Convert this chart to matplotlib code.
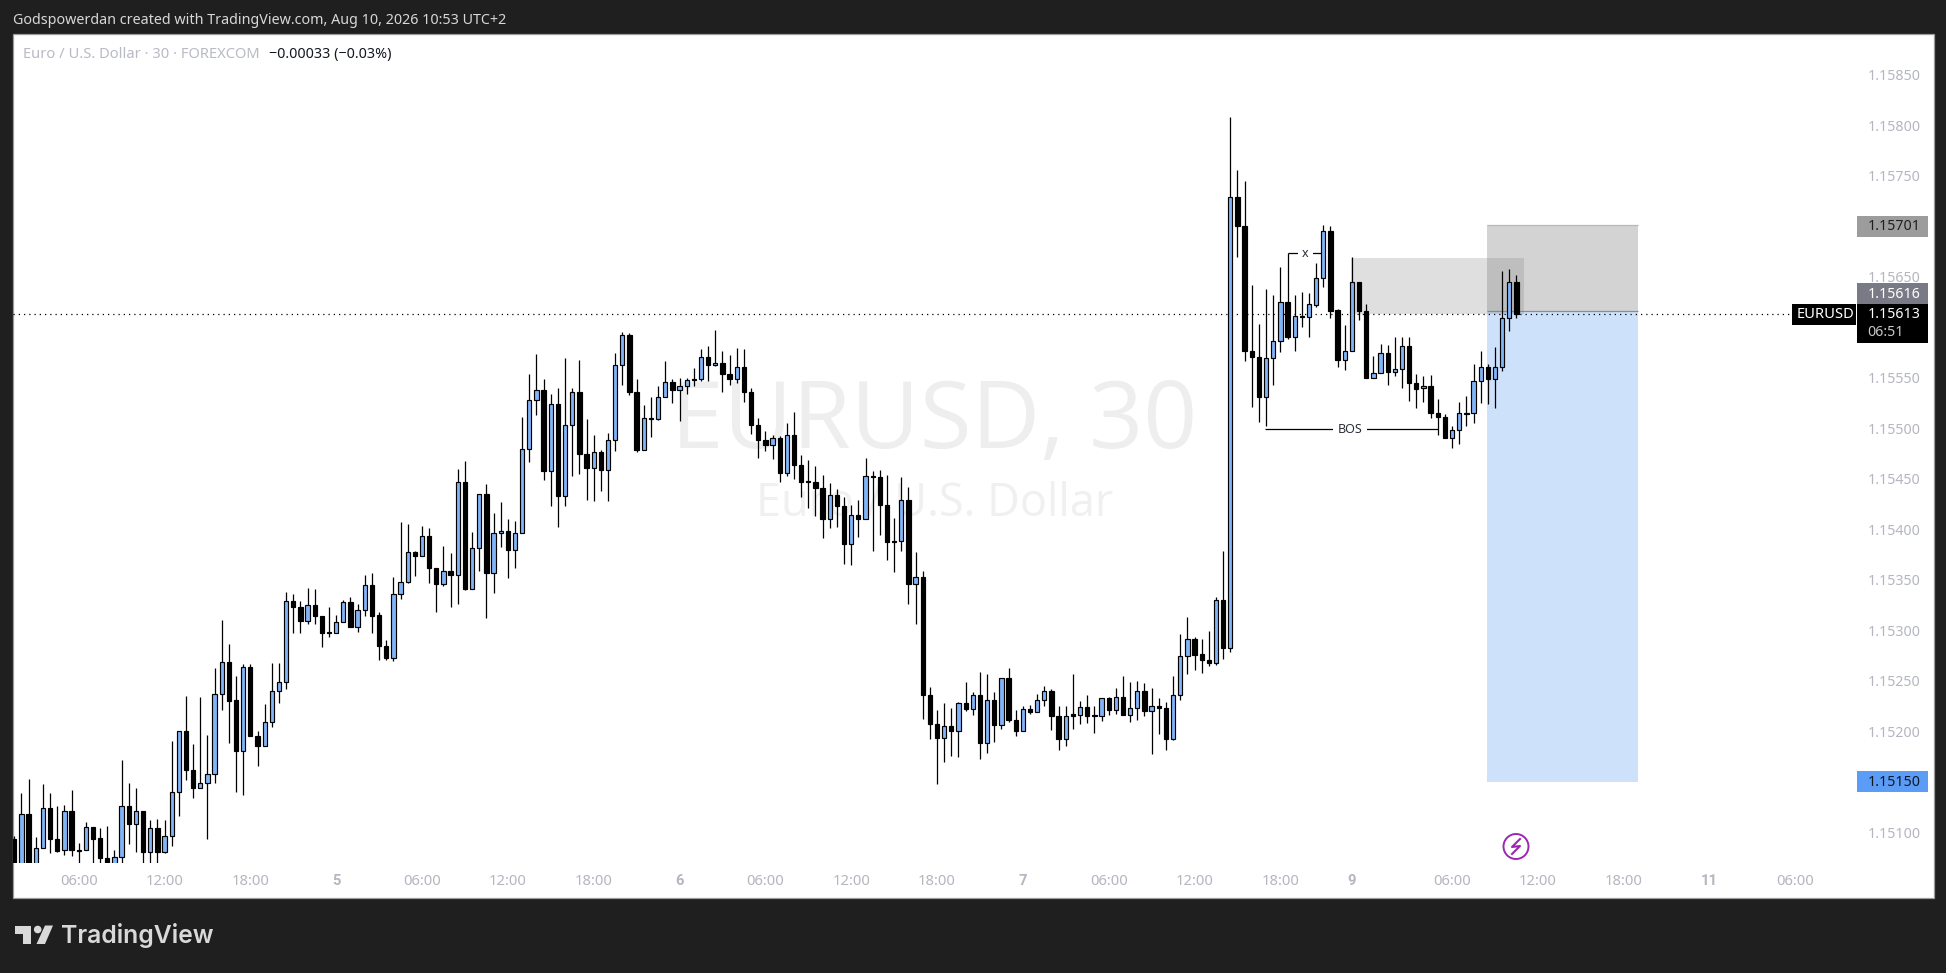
import numpy as np
import matplotlib
matplotlib.use("Agg")
import matplotlib.pyplot as plt
import matplotlib.transforms as mtransforms
from matplotlib.patches import Rectangle, Circle, Polygon
from matplotlib.lines import Line2D

plt.rcParams["font.family"] = ["Noto Sans", "DejaVu Sans"]

W, H = 1946, 973
BASE = 1.15  # OHLC lists are offsets from this, in 0.00001 units

opens = [93,66,118,66,84,124,93,82,121,82,
         82,105,94,74,64,75,126,108,121,80,
         104,80,96,140,200,161,144,149,157,237,
         268,231,180,263,195,185,209,240,249,329,
         323,309,325,314,298,297,308,328,303,320,
         345,315,284,272,336,348,377,373,393,361,
         346,358,354,447,341,381,435,356,396,398,
         379,396,479,528,538,457,524,433,503,536,
         474,460,476,458,488,562,592,536,478,510,
         509,531,546,538,542,549,549,570,562,564,
         553,549,560,536,503,488,483,490,455,493,
         463,448,447,441,410,434,423,385,414,410,
         452,451,424,388,388,429,346,352,236,207,
         193,205,200,228,222,236,188,231,206,252,
         211,200,222,219,231,240,215,192,217,216,
         224,216,215,233,221,234,216,223,240,220,
         225,223,192,236,274,291,276,270,267,330,
         282,729,700,576,570,531,569,586,625,590,
         611,610,622,649,695,617,567,576,645,616,
         550,554,574,555,558,581,545,540,542,515,
         511,490,498,515,515,547,560,549,560,609,645]
highs = [96,139,152,95,148,139,126,127,142,89,
         110,105,104,106,82,171,149,144,121,112,
         113,112,190,200,235,187,234,196,262,310,
         286,254,266,266,200,227,267,267,338,336,
         329,342,341,314,323,315,330,333,326,354,
         356,318,290,352,407,405,378,403,401,361,
         383,376,459,467,397,435,445,416,427,410,
         408,511,553,573,549,534,540,569,540,567,
         509,493,478,495,574,595,594,549,523,531,
         542,566,549,550,550,559,578,581,597,576,
         572,579,578,540,510,497,493,492,505,516,
         473,468,462,453,446,440,432,424,429,470,
         457,458,453,411,451,442,377,358,244,221,
         228,223,229,249,239,258,256,239,252,262,
         221,225,226,237,245,242,225,225,256,230,
         236,225,233,234,243,254,249,250,248,243,
         233,229,254,296,313,293,291,299,333,378,
         808,755,745,642,603,638,632,659,673,632,
         635,634,663,701,700,618,602,669,645,623,
         571,583,582,590,590,590,553,551,552,529,
         514,502,526,532,563,576,563,580,655,657,651]
lows = [62,62,62,62,84,79,80,77,76,68,
        82,68,68,64,60,68,88,80,68,68,
        68,79,86,116,151,134,144,93,149,221,
        188,140,137,195,165,185,204,228,242,297,
        297,306,306,283,293,297,308,303,298,314,
        297,270,270,269,331,347,353,373,347,318,
        344,323,326,340,341,358,312,337,382,351,
        361,396,466,513,449,423,402,423,452,454,
        429,428,438,428,477,543,533,476,478,491,
        508,531,525,507,534,542,547,547,561,536,
        543,545,526,494,470,477,469,447,452,450,
        432,421,413,391,401,402,365,364,392,410,
        378,394,369,357,378,326,306,212,192,148,
        169,175,174,220,216,172,178,189,202,209,
        195,200,217,219,225,201,181,185,202,207,
        208,198,210,216,217,216,209,211,215,177,
        197,181,191,231,256,260,257,264,265,271,
        278,669,566,521,506,502,543,575,588,576,
        600,590,620,640,609,560,557,576,607,550,
        550,554,543,551,540,527,520,526,510,493,
        490,480,484,502,505,525,524,520,556,596,609]
closes = [66,118,66,84,124,93,81,121,82,81,
          105,93,74,66,75,126,108,121,80,104,
          80,96,140,200,161,144,149,157,237,268,
          230,180,263,195,185,209,240,249,329,323,
          309,325,314,297,297,308,328,303,320,345,
          314,284,272,336,348,377,373,393,361,346,
          358,354,447,341,381,435,356,396,398,379,
          396,479,528,538,457,524,433,503,536,474,
          460,476,458,488,562,592,536,478,510,509,
          531,546,538,542,548,548,570,562,564,553,
          549,560,536,503,488,483,490,455,493,463,
          447,447,441,410,434,423,385,414,410,452,
          451,424,387,387,429,346,352,236,207,193,
          205,200,228,222,236,188,231,206,252,211,
          200,222,219,231,240,215,192,215,215,224,
          215,215,233,221,234,216,223,240,220,225,
          223,192,236,274,291,275,270,267,330,282,
          729,700,576,570,531,569,586,625,590,611,
          610,623,649,695,616,567,576,645,616,550,
          554,574,555,558,581,545,539,542,515,511,
          490,498,515,514,547,560,549,560,609,645,613]

time_ticks = [9,21,33,45,57,69,81,93,105,117,129,141,153,165,177,187,201,213,225,237,249]
time_labels = ["06:00","12:00","18:00","5","06:00","12:00","18:00","6","06:00","12:00","18:00","7",
               "06:00","12:00","18:00","9","06:00","12:00","18:00","11","06:00"]
price_ticks = [1.151,1.152,1.1525,1.153,1.1535,1.154,1.1545,1.155,1.1555,1.1565,1.1575,1.158,1.1585]

stop_price, entry_price, target_price = 1.15701, 1.15616, 1.15150
last_price = 1.15613
zone_top, zone_bottom = 1.15668, 1.15613
bos_price, x_price = 1.15499, 1.15673

DARK = "#1f1f1f"
UP = "#82b5f8"
AXIS_TXT = "#b4b6c0"

# pixel coords, origin top left
px = mtransforms.Affine2D().scale(1, -1).translate(0, H)

fig = plt.figure(figsize=(W / 100, H / 100), dpi=100, facecolor=DARK)
fig.add_artist(Rectangle((12.5, 33.5), 1921, 864, transform=px, facecolor="white",
                         edgecolor="#9b9b9b", linewidth=0.9, zorder=-1))

ax = fig.add_axes([13 / W, (H - 863) / H, 1920 / W, (863 - 34) / H])
ax.patch.set_alpha(0)
for s in ax.spines.values():
    s.set_visible(False)
step = 7.153
ax.set_xlim((13 - 14.3) / step, (1933 - 14.3) / step)
ax.set_ylim(1.155 - 435 / 101000, 1.155 + 394 / 101000)

o = BASE + np.array(opens) / 1e5
h = BASE + np.array(highs) / 1e5
l = BASE + np.array(lows) / 1e5
c = BASE + np.array(closes) / 1e5
idx = np.arange(len(o))

# risk/reward box + zone, behind the candles
ax.add_patch(Rectangle((205.9, entry_price), 21.1, stop_price - entry_price, facecolor="#d3d3d3",
                       edgecolor="none", zorder=1))
ax.add_patch(Rectangle((205.9, target_price), 21.1, entry_price - target_price, facecolor="#cde1fa",
                       edgecolor="none", zorder=1))
ax.hlines(stop_price, 205.9, 227, color="#b8b8b8", lw=0.9, zorder=1.1)
ax.hlines(entry_price, 205.9, 227, color="#8a8d96", lw=0.9, zorder=1.1)
ax.add_patch(Rectangle((186.9, zone_bottom), 24.1, zone_top - zone_bottom,
                       facecolor=(0.5, 0.5, 0.5, 0.25), edgecolor="none", zorder=1.2))

# watermark
ax.text(934, 424, "EURUSD, 30", transform=px, fontsize=68, color="#eeeeee", ha="center", va="center",
        family="Open Sans", zorder=0.5)
ax.text(935, 503.5, "Euro / U.S. Dollar", transform=px, fontsize=32.5, color="#f0f0f0", ha="center", va="center",
        family="Open Sans", zorder=0.5)

ax.axhline(last_price, color="black", lw=0.9, linestyle=(0, (1, 3.2)), zorder=1.5,
           xmax=(1792 - 13) / 1920)

# candles
up = c >= o
ax.vlines(idx, l, h, color="black", lw=0.9, zorder=2)
ax.bar(idx[up], (c - o)[up], bottom=o[up], width=0.6, color=UP, edgecolor="black", linewidth=0.85, zorder=3)
ax.bar(idx[~up], (c - o)[~up], bottom=o[~up], width=0.6, color="black", edgecolor="black", linewidth=0.85, zorder=3)

# drawings
ax.hlines(bos_price, 174.8, 199, color="black", lw=0.9, zorder=4)
ax.text(186.7, bos_price, "BOS", fontsize=9, color="#2a2e39", ha="center", va="center", zorder=5,
        bbox=dict(facecolor="white", edgecolor="none", pad=3.5))
ax.hlines(x_price, 178, 183, color="black", lw=0.9, zorder=1.8)
ax.text(180.5, x_price, "x", fontsize=9, color="#2a2e39", ha="center", va="center", zorder=5,
        bbox=dict(facecolor="white", edgecolor="none", pad=3))

# axes text
ax.set_xticks(time_ticks)
ax.set_xticklabels(time_labels)
ax.tick_params(axis="x", length=0, pad=8.2, labelsize=10.6, labelcolor=AXIS_TXT)
for t in ax.get_xticklabels():
    if ":" not in t.get_text():
        t.set_family("Roboto")
        t.set_fontweight("bold")
ax.yaxis.tick_right()
ax.set_yticks(price_ticks)
ax.set_yticklabels([f"{p:.5f}" for p in price_ticks], va="center")
ax.tick_params(axis="y", length=0, pad=-47.2, labelsize=10.2, labelcolor=AXIS_TXT)
ytrans = mtransforms.ScaledTranslation(0, -2 / 100, fig.dpi_scale_trans)
for t in ax.get_yticklabels():
    t.set_transform(t.get_transform() + ytrans)


def box(x0, y0, x1, y1, color):
    fig.add_artist(Rectangle((x0, y0), x1 - x0, y1 - y0, transform=px, facecolor=color, edgecolor="none", zorder=2))


def label(x, y, s, color, size=10.2, **kw):
    fig.text(x, y, s, transform=px, color=color, fontsize=size, va="center", zorder=3, **kw)


box(1857, 216, 1928, 237, "#9c9c9c")
label(1867.5, 227, "1.15701", "#1f1f1f")
box(1857, 283, 1928, 304, "#787b86")
label(1867.5, 295, "1.15616", "white")
box(1792, 304, 1856, 325, "black")
label(1797, 315, "EURUSD", "white", size=10.6)
box(1857, 304, 1928, 343, "black")
label(1867.5, 315, "1.15613", "white")
label(1867.5, 333, "06:51", "#c8c8c8")
box(1857, 771, 1928, 792, "#5b9cf6")
label(1867.5, 782, "1.15150", "#131722")

# header
label(13, 20.5, "Godspowerdan created with TradingView.com, Aug 10, 2026 10:53 UTC+2", "#d8d8d8", size=10.3)
label(23, 54.5, "Euro / U.S. Dollar · 30 · FOREXCOM", "#b9bbc4", size=10.6)
label(269, 54.5, "−0.00033 (−0.03%)", "#131722", size=10.3)

# lightning marker
fig.add_artist(Circle((1516, 846.5), 12.5, transform=px, facecolor="white", edgecolor="#9c27b0", lw=1.4, zorder=2))
fig.add_artist(Line2D([1520, 1512, 1520, 1512], [839, 847, 846, 854], transform=px, color="#9c27b0", lw=1.5, zorder=3))

# logo
logo = "#d9d9d9"
fig.add_artist(Polygon([(15, 925.5), (31, 925.5), (31, 944), (23, 944), (23, 934), (15, 934)], transform=px, facecolor=logo, edgecolor="none"))
fig.add_artist(Circle((37.7, 929.5), 3.8, transform=px, facecolor=logo, edgecolor="none"))
fig.add_artist(Polygon([(45, 925.5), (53, 925.5), (45, 944), (36.5, 944)], transform=px, facecolor=logo, edgecolor="none"))
label(61, 935, "TradingView", logo, size=17.8, fontweight="semibold", family="Inter")

fig.savefig("out.png", dpi=100, facecolor=DARK)
